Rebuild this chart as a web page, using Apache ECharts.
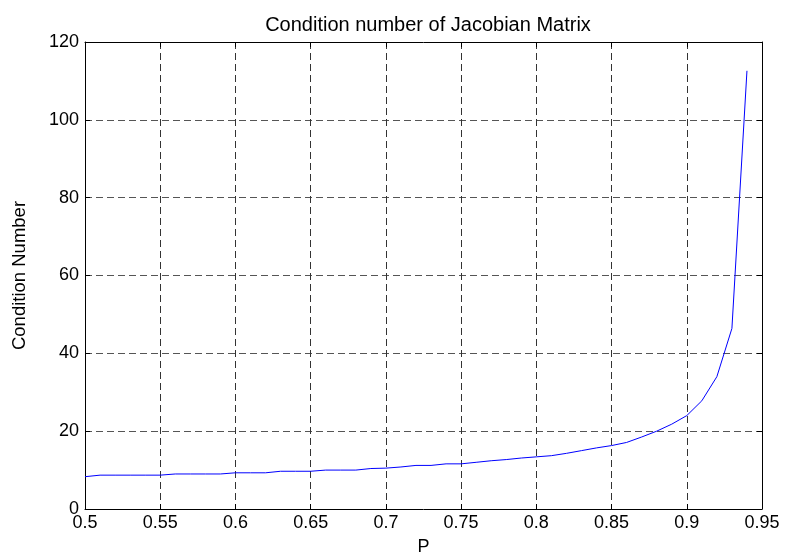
<!DOCTYPE html>
<html>
<head>
<meta charset="utf-8">
<script src="https://cdn.jsdelivr.net/npm/echarts@6/dist/echarts.min.js"></script>
<style>
html,body{margin:0;padding:0;background:#fff;}
#chart{width:785px;height:554px;}
</style>
</head>
<body>
<div id="chart"></div>
<script>
// P values sampled every 0.01
const pValues = [0.50,0.51,0.52,0.53,0.54,0.55,0.56,0.57,0.58,0.59,
                 0.60,0.61,0.62,0.63,0.64,0.65,0.66,0.67,0.68,0.69,
                 0.70,0.71,0.72,0.73,0.74,0.75,0.76,0.77,0.78,0.79,
                 0.80,0.81,0.82,0.83,0.84,0.85,0.86,0.87,0.88,0.89,
                 0.90,0.91,0.92,0.93,0.94];
// Condition number of the Jacobian at each P
const condNumber = [8.3,8.7,8.7,8.7,8.7,8.7,9.0,9.0,9.0,9.0,
                    9.3,9.3,9.3,9.7,9.7,9.7,10.0,10.0,10.0,10.4,
                    10.5,10.8,11.2,11.2,11.6,11.6,12.0,12.4,12.7,13.1,
                    13.4,13.7,14.3,15.0,15.7,16.3,17.1,18.5,20.0,21.8,
                    24.0,27.8,34.0,46.4,112.6];

const titleText = 'Condition number of Jacobian Matrix';
const xName = 'P';
const yName = 'Condition Number';

const font = 'Liberation Sans, Arial, Helvetica, sans-serif';
const fmtX = v => String(+v.toFixed(2));

const chart = echarts.init(document.getElementById('chart'), null, {renderer: 'canvas'});

const dashed = {show: true, lineStyle: {color: '#333', type: [7, 4], width: 1}};
const tickIn = {show: true, inside: true, length: 5, lineStyle: {color: '#000'}};
const line = {show: true, onZero: false, lineStyle: {color: '#000', width: 1}};

chart.setOption({
  animation: false,
  backgroundColor: '#fff',
  title: {
    text: titleText,
    left: 423,
    textAlign: 'center',
    top: 10,
    textStyle: {fontFamily: font, fontSize: 20, fontWeight: 'normal', color: '#000'}
  },
  grid: {left: 85, right: 23, top: 42, bottom: 45, containLabel: false, outerBoundsMode: 'none'},
  xAxis: [{
    type: 'value', min: 0.5, max: 0.95, interval: 0.05, position: 'bottom',
    name: xName, nameLocation: 'middle', nameGap: 29,
    nameTextStyle: {fontFamily: font, fontSize: 18, color: '#000'},
    axisLine: line, axisTick: tickIn, splitLine: dashed,
    axisLabel: {formatter: fmtX, fontFamily: font, fontSize: 18, color: '#000', margin: 5}
  }, {
    type: 'value', min: 0.5, max: 0.95, interval: 0.05, position: 'top',
    axisLine: line, axisTick: tickIn, splitLine: {show: false}, axisLabel: {show: false}
  }],
  yAxis: [{
    type: 'value', min: 0, max: 120, interval: 20, position: 'left',
    name: yName, nameLocation: 'middle', nameGap: 56,
    nameTextStyle: {fontFamily: font, fontSize: 18.5, color: '#000'},
    axisLine: line, axisTick: tickIn,
    splitLine: {show: true, lineStyle: {color: '#555', type: [7, 4], width: 1}},
    axisLabel: {fontFamily: font, fontSize: 18, color: '#000', margin: 6}
  }, {
    type: 'value', min: 0, max: 120, interval: 20, position: 'right',
    axisLine: line, axisTick: tickIn, splitLine: {show: false}, axisLabel: {show: false}
  }],
  series: [{
    type: 'line',
    data: pValues.map((p, i) => [p, condNumber[i]]),
    showSymbol: false,
    lineStyle: {color: '#0000ff', width: 1},
    itemStyle: {color: '#0000ff'}
  }]
});
</script>
</body>
</html>
